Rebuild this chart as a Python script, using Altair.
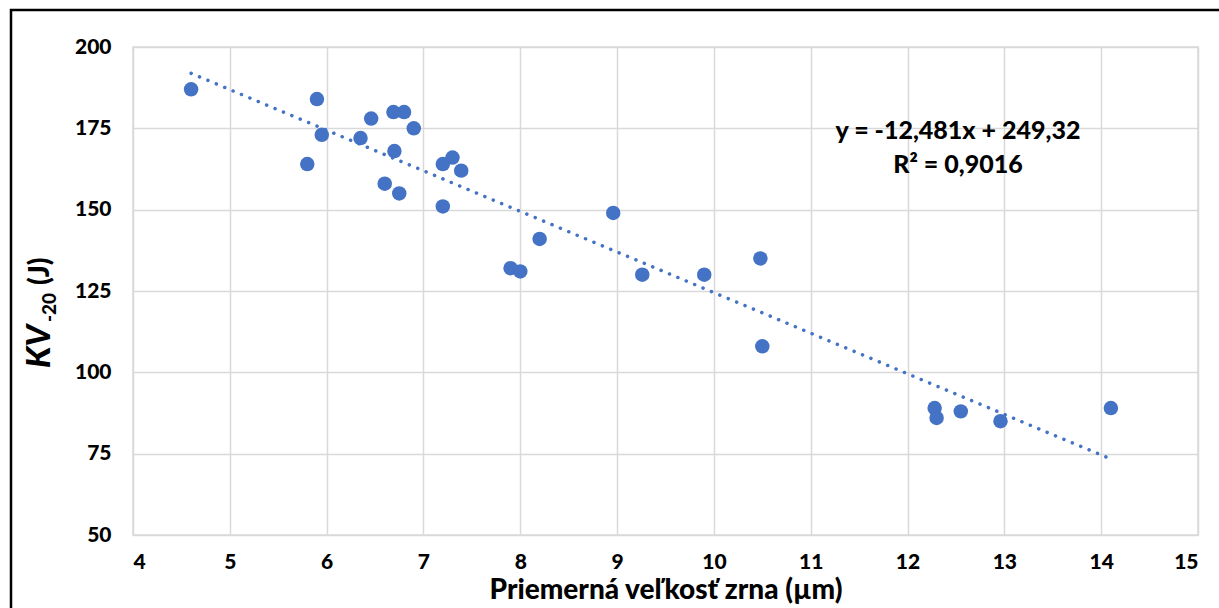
import altair as alt
import pandas as pd

# Data
grain_size = [4.6, 5.9, 5.8, 5.95, 6.35, 6.46, 6.69, 6.8, 6.9, 6.7, 6.6, 6.75,
              7.2, 7.3, 7.39, 7.2, 7.9, 8.0, 8.2, 8.96, 9.26, 9.9, 10.48, 10.5,
              12.28, 12.3, 12.55, 12.96, 14.1]
kv20 = [187, 184, 164, 173, 172, 178, 180, 180, 175, 168, 158, 155,
        164, 166, 162, 151, 132, 131, 141, 149, 130, 130, 135, 108,
        89, 86, 88, 85, 89]
x_ticks = list(range(4, 16))
y_ticks = [50, 75, 100, 125, 150, 175, 200]
eq_lines = ["y = -12,481x + 249,32", "R² = 0,9016"]

df = pd.DataFrame({"x": grain_size, "y": kv20})

BLUE = "#4472C4"
FONT = "Lato"
W, H = 1065, 488

xs = alt.Scale(domain=[4, 15], nice=False, zero=False)
ys = alt.Scale(domain=[50, 200], nice=False, zero=False)

base = alt.Chart(df)

points = base.mark_circle(size=210, color=BLUE, opacity=1).encode(
    x=alt.X("x:Q", scale=xs,
            axis=alt.Axis(values=x_ticks, format="d", title="Priemerná veľkosť zrna (µm)",
                          labelFont=FONT, labelFontSize=21, labelFontWeight=900,
                          labelColor="black", labelPadding=16, ticks=False, domain=False,
                          gridColor="#D9D9D9", gridWidth=1.5,
                          titleFont=FONT, titleFontSize=28, titleFontWeight=900,
                          titleColor="black", titlePadding=4)),
    y=alt.Y("y:Q", scale=ys,
            axis=alt.Axis(values=y_ticks, title=None,
                          labelFont=FONT, labelFontSize=21, labelFontWeight=900,
                          labelColor="black", labelPadding=22, ticks=False, domain=False,
                          gridColor="#D9D9D9", gridWidth=1.5)),
)

trend = base.transform_regression("x", "y", extent=[4.6, 14.05]).mark_line(
    color=BLUE, strokeWidth=3.5, strokeDash=[0.1, 9], strokeCap="round"
).encode(x=alt.X("x:Q", scale=xs), y=alt.Y("y:Q", scale=ys))

one = alt.Data(values=[{"a": 1}])

eq1 = alt.Chart(one).mark_text(text=eq_lines[0], font=FONT, fontSize=25, fontWeight=900,
                               color="black", align="center", baseline="middle").encode(
    x=alt.value(825), y=alt.value(84))
eq2 = alt.Chart(one).mark_text(text=eq_lines[1], font=FONT, fontSize=25, fontWeight=900,
                               color="black", align="center", baseline="middle").encode(
    x=alt.value(825), y=alt.value(118))

kv = alt.Chart(one).mark_text(text="KV", font=FONT, fontSize=33, fontWeight=900,
                              fontStyle="italic", color="black", angle=270,
                              align="left", baseline="alphabetic").encode(
    x=alt.value(-83), y=alt.value(321))
sub = alt.Chart(one).mark_text(text="-20", font=FONT, fontSize=19, fontWeight=900,
                               color="black", angle=270,
                               align="left", baseline="alphabetic").encode(
    x=alt.value(-77), y=alt.value(275))
unit = alt.Chart(one).mark_text(text="(J)", font=FONT, fontSize=28, fontWeight=900,
                                color="black", angle=270,
                                align="left", baseline="alphabetic").encode(
    x=alt.value(-84), y=alt.value(238))

border = alt.Chart(one).mark_rect(fill=None, stroke="black", strokeWidth=2.5,
                                  clip=False).encode(
    x=alt.value(-122), x2=alt.value(1100), y=alt.value(-37), y2=alt.value(620))

chart = alt.layer(points, trend, eq1, eq2, kv, sub, unit, border).properties(
    width=W, height=H,
    autosize=alt.AutoSizeParams(type="none"),
    padding={"left": 133, "top": 47, "right": 21, "bottom": 73},
    background="white",
).configure_view(stroke="#D9D9D9", strokeWidth=1.5)

chart.save("out.html", embed_options={"renderer": "svg", "actions": False})
